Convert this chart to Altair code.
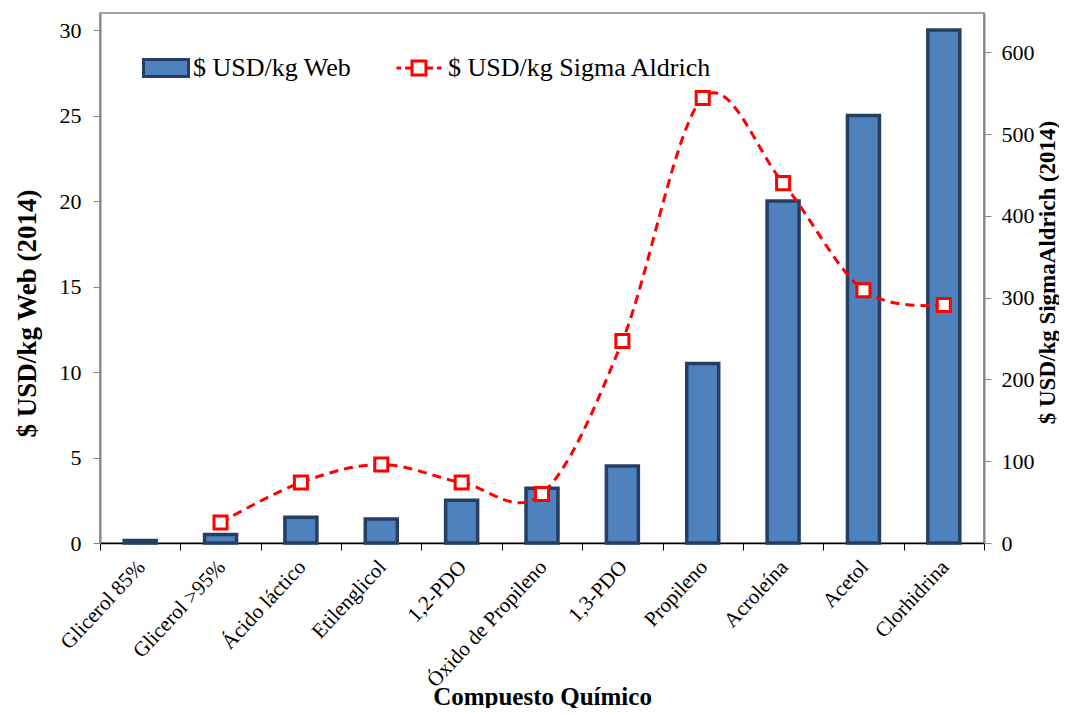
import altair as alt
import pandas as pd

categories = ["Glicerol 85%", "Glicerol >95%", "Ácido láctico", "Etilenglicol", "1,2-PDO",
              "Óxido de Propileno", "1,3-PDO", "Propileno", "Acroleína", "Acetol", "Clorhidrina"]
web_usd = [0.15, 0.5, 1.5, 1.4, 2.5, 3.2, 4.5, 10.5, 20, 25, 30]
sigma_usd = [None, 25, 74, 96, 74, 60, 247, 544, 440, 309, 291]

left_ticks = [0, 5, 10, 15, 20, 25, 30]
right_ticks = [0, 100, 200, 300, 400, 500, 600]

WEB = "$ USD/kg Web"
SIGMA = "$ USD/kg Sigma Aldrich"

df = pd.DataFrame({"cat": categories, "web": web_usd, "sigma": sigma_usd})

FONT = "Liberation Serif"
GRAY = "#868686"

x_enc = alt.X("cat:N", sort=categories,
              scale=alt.Scale(paddingInner=0, paddingOuter=0),
              axis=alt.Axis(title="Compuesto  Químico", titleFont=FONT, titleFontSize=25,
                            titleFontWeight="bold", titleColor="black",
                            titleX=442, titleY=153, titleBaseline="middle",
                            labelAngle=-47, labelAlign="right", labelBaseline="top",
                            labelFont=FONT, labelFontSize=21, labelColor="black",
                            labelPadding=6, labelOffset=-7,
                            tickBand="extent", tickSize=7, tickColor="black",
                            domainColor="black", domainWidth=1.5, labelOverlap=False,
                            labelLimit=0))

bars = alt.Chart(df).transform_calculate(serie1="'" + WEB + "'").mark_bar(
    size=32, stroke="#243F63", strokeWidth=3.5
).encode(
    x=x_enc,
    y=alt.Y("web:Q", scale=alt.Scale(domain=[0, 31], nice=False),
            axis=alt.Axis(orient="left", values=left_ticks, grid=False,
                          title="$ USD/kg Web (2014)", titleFont=FONT, titleFontSize=27,
                          titleFontWeight="bold", titleColor="black", titleAngle=270,
                          titleX=-73, titleY=300, titleAlign="center", titleBaseline="middle",
                          labelFont=FONT, labelFontSize=22, labelColor="black",
                          labelPadding=12, tickSize=7, tickColor=GRAY,
                          domainColor=GRAY, domainWidth=2)),
    fill=alt.Fill("serie1:N", scale=alt.Scale(domain=[WEB], range=["#4F81BD"]),
                  legend=alt.Legend(orient="none", legendX=42, legendY=31, title=None,
                                    symbolType="M-1,-0.38H1V0.38H-1Z", symbolSize=2025,
                                    symbolStrokeColor="#243F63", symbolStrokeWidth=3,
                                    symbolFillColor="#4F81BD",
                                    labelFont=FONT, labelFontSize=26, labelColor="black",
                                    labelOffset=3, padding=0, labelLimit=0)),
)

y_right = alt.Y("sigma:Q", scale=alt.Scale(domain=[0, 648], nice=False),
                axis=alt.Axis(orient="right", values=right_ticks, grid=False,
                              title="$ USD/kg SigmaAldrich (2014)", titleFont=FONT,
                              titleFontSize=23, titleFontWeight="bold", titleColor="black",
                              titleAngle=270, titleX=63, titleY=259, titleAlign="center",
                              titleBaseline="middle",
                              labelFont=FONT, labelFontSize=22, labelColor="black",
                              labelPadding=10, tickSize=7, tickColor=GRAY,
                              domainColor=GRAY, domainWidth=2))

stroke_enc = alt.Stroke("serie2:N", scale=alt.Scale(domain=[SIGMA], range=["#FF0000"]),
                        legend=alt.Legend(orient="none", legendX=295, legendY=31, title=None,
                                          symbolType="M-1,0H-0.8M-0.62,0H-0.31M-0.31,-0.31H0.31V0.31H-0.31ZM0.31,0H0.62M0.8,0H1",
                                          symbolSize=2025, symbolStrokeColor="#FF0000",
                                          symbolFillColor="white", symbolStrokeWidth=3,
                                          labelFont=FONT, labelFontSize=26, labelColor="black",
                                          labelOffset=5, padding=0, labelLimit=0))

line_base = alt.Chart(df).transform_filter("datum.sigma != null").transform_calculate(
    serie2="'" + SIGMA + "'")

line = line_base.mark_line(interpolate="cardinal", strokeDash=[9, 6], strokeWidth=3).encode(
    x=x_enc, y=y_right, stroke=stroke_enc)

points = line_base.mark_point(shape="square", size=170, fill="white", fillOpacity=1,
                              strokeWidth=3, opacity=1).encode(
    x=x_enc, y=y_right, stroke=stroke_enc)

chart = alt.layer(bars, alt.layer(line, points)).resolve_scale(
    y="independent", fill="independent", stroke="independent"
).properties(
    width=884, height=530,
    autosize=alt.AutoSizeParams(type="none"),
    padding={"left": 92, "top": 5, "right": 75, "bottom": 165},
    background="white",
).configure_view(stroke=GRAY, strokeWidth=1.5)

chart.save("out.html", embed_options={"renderer": "svg", "actions": False})
